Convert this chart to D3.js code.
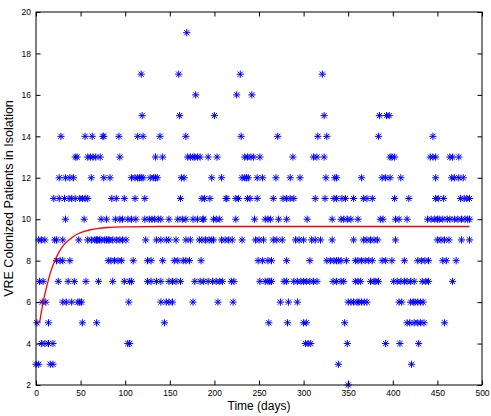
<!DOCTYPE html>
<html>
<head>
<meta charset="utf-8">
<script src="https://cdn.jsdelivr.net/npm/d3@7"></script>
<style>
  body { margin: 0; background: #fff; }
  text { font-family: "Liberation Sans", Arial, sans-serif; }
</style>
</head>
<body>
<svg id="chart" width="491" height="416"></svg>
<script>
// days at which the census sat at each level
var lvl2 = [350];
var lvl3 = [0, 3, 16, 19, 339, 421];
var lvl4 = [6, 10, 14, 19, 103, 105, 302, 305, 308, 349, 392, 408, 429];
var lvl5 = [1, 14, 52, 68, 144, 261, 282, 300, 303, 346, 416, 419, 424, 428, 431, 435, 458];
var lvl6 = [7, 11, 30, 34, 40, 47, 49, 51, 104, 140, 146, 149, 153, 176, 204, 221, 274, 283, 293,
            350, 353, 356, 360, 362, 365, 368, 371, 407, 410, 420, 423, 425, 428, 431, 434];
var lvl7 = [4, 8, 25, 36, 43, 56, 70, 86, 99, 105, 107, 125, 129, 135, 140, 149, 153, 157, 162,
            178, 184, 188, 193, 198, 202, 206, 209, 219, 222, 251, 257, 260, 262, 264, 278, 281,
            289, 293, 297, 300, 303, 307, 311, 315, 333, 337, 342, 345, 358, 361, 364, 375, 379,
            381, 384, 401, 405, 409, 413, 416, 420, 424, 433, 437, 440, 467];
var lvl8 = [23, 27, 30, 38, 81, 84, 88, 92, 96, 109, 125, 129, 142, 155, 159, 165, 168, 172, 185,
            249, 254, 260, 264, 281, 307, 326, 330, 334, 337, 339, 342, 348, 358, 361, 365, 369,
            373, 377, 388, 392, 399, 413, 428, 432, 436, 440, 456, 460, 471];
var lvl9 = [3, 6, 10, 21, 23, 30, 48, 58, 62, 66, 68, 69, 71, 73, 77, 79, 81, 82, 86, 90, 94, 97,
            101, 123, 135, 140, 146, 149, 157, 168, 173, 183, 186, 190, 194, 197, 199, 208, 212,
            216, 220, 231, 246, 250, 255, 266, 270, 276, 291, 295, 300, 309, 313, 319, 332, 356,
            367, 371, 375, 379, 383, 403, 450, 454, 458, 463, 477, 486];
var lvl10 = [33, 54, 73, 79, 89, 94, 97, 103, 107, 112, 122, 127, 130, 133, 137, 140, 149, 159,
             164, 168, 176, 181, 187, 188, 199, 202, 206, 224, 245, 257, 260, 263, 272, 281, 304,
             332, 342, 345, 349, 353, 361, 386, 389, 403, 407, 416, 439, 443, 447, 450, 452, 456,
             461, 464, 469, 473, 477, 481, 484, 486];
var lvl11 = [20, 26, 32, 37, 40, 44, 49, 52, 55, 58, 85, 90, 99, 111, 122, 162, 186, 189, 195,
             213, 214, 224, 227, 237, 240, 248, 266, 277, 281, 285, 289, 313, 324, 334, 337, 343,
             347, 356, 367, 371, 377, 402, 418, 448, 451, 457, 476, 480, 483, 486];
var lvl12 = [26, 33, 38, 42, 62, 76, 83, 107, 111, 114, 116, 118, 120, 128, 132, 134, 136, 163,
             166, 197, 208, 231, 234, 236, 238, 248, 254, 269, 285, 296, 325, 335, 337, 365, 388,
             392, 397, 409, 448, 466, 469, 474, 479];
var lvl13 = [44, 46, 58, 61, 64, 67, 72, 94, 134, 142, 170, 173, 176, 178, 181, 184, 193, 203,
             234, 237, 241, 244, 251, 288, 311, 315, 323, 397, 399, 402, 442, 445, 448, 464, 467, 474];
var lvl14 = [28, 55, 63, 75, 76, 93, 114, 120, 139, 168, 230, 271, 316, 326, 384, 445];
var lvl15 = [119, 161, 200, 323, 385, 393, 396];
var lvl16 = [179, 225, 242];
var lvl17 = [118, 160, 229, 321];
var lvl19 = [169];

// fitted curve, sampled from the red line
var fitDays = [4, 8, 12, 16, 21, 25, 30, 37, 45, 50, 60, 70, 80, 100, 150, 486];
var fitVals = [5.0, 6.0, 6.75, 7.4, 8.0, 8.35, 8.7, 9.0, 9.25, 9.35, 9.48, 9.56, 9.6, 9.63, 9.65, 9.65];

var xTicks = d3.range(0, 501, 50);
var yTicks = d3.range(2, 21, 2);

var levels = [[2, lvl2], [3, lvl3], [4, lvl4], [5, lvl5], [6, lvl6], [7, lvl7], [8, lvl8],
              [9, lvl9], [10, lvl10], [11, lvl11], [12, lvl12], [13, lvl13], [14, lvl14],
              [15, lvl15], [16, lvl16], [17, lvl17], [19, lvl19]];
var points = [];
levels.forEach(function (l) {
    l[1].forEach(function (d) { points.push({day: d, n: l[0]}); });
});

var svg = d3.select("#chart");
var pLeft = 36, pRight = 482, pTop = 12, pBottom = 385;

var x = d3.scaleLinear().domain([0, 500]).range([pLeft, pRight]);
var y = d3.scaleLinear().domain([2, 20]).range([pBottom, pTop]);

// data first, box and ticks over it
var r = 3.6, dg = 2.6;
var star = "M" + (-r) + ",0H" + r + "M0," + (-r) + "V" + r +
           "M" + (-dg) + "," + (-dg) + "L" + dg + "," + dg +
           "M" + (-dg) + "," + dg + "L" + dg + "," + (-dg);

svg.append("g").selectAll("path")
    .data(points)
    .enter().append("path")
    .attr("transform", function (d) { return "translate(" + x(d.day) + "," + y(d.n) + ")"; })
    .attr("d", star)
    .attr("fill", "none")
    .attr("stroke", "#0000ff")
    .attr("stroke-width", 1);

var fit = fitDays.map(function (d, i) { return [d, fitVals[i]]; });
var line = d3.line()
    .x(function (d) { return x(d[0]); })
    .y(function (d) { return y(d[1]); })
    .curve(d3.curveMonotoneX);

svg.append("path")
    .datum(fit)
    .attr("d", line)
    .attr("fill", "none")
    .attr("stroke", "#ff0000")
    .attr("stroke-width", 1.3);

// matlab style axes: inward ticks on all four sides
var tl = 4.5;
svg.append("g").attr("transform", "translate(0," + pBottom + ")")
    .call(d3.axisBottom(x).tickValues(xTicks).tickSizeInner(-tl).tickSizeOuter(0).tickPadding(5));
svg.append("g").attr("transform", "translate(0," + pTop + ")")
    .call(d3.axisTop(x).tickValues(xTicks).tickSizeInner(-tl).tickSizeOuter(0).tickFormat(""));
svg.append("g").attr("transform", "translate(" + pLeft + ",0)")
    .call(d3.axisLeft(y).tickValues(yTicks).tickSizeInner(-tl).tickSizeOuter(0).tickPadding(5));
svg.append("g").attr("transform", "translate(" + pRight + ",0)")
    .call(d3.axisRight(y).tickValues(yTicks).tickSizeInner(-tl).tickSizeOuter(0).tickFormat(""));

svg.selectAll(".domain").remove();
svg.selectAll(".tick line").attr("stroke", "#000");
svg.selectAll(".tick text")
    .attr("font-size", 8.5)
    .attr("font-family", "Liberation Sans, Arial, sans-serif")
    .attr("fill", "#000");

svg.append("rect")
    .attr("x", pLeft).attr("y", pTop)
    .attr("width", pRight - pLeft).attr("height", pBottom - pTop)
    .attr("fill", "none")
    .attr("stroke", "#000")
    .attr("stroke-width", 1);

svg.append("text")
    .attr("x", (pLeft + pRight) / 2).attr("y", 410)
    .attr("text-anchor", "middle")
    .attr("font-size", 12)
    .text("Time (days)");

svg.append("text")
    .attr("transform", "translate(13," + ((pTop + pBottom) / 2) + ") rotate(-90)")
    .attr("text-anchor", "middle")
    .attr("font-size", 12.5)
    .text("VRE Colonized Patients in Isolation");
</script>
</body>
</html>
